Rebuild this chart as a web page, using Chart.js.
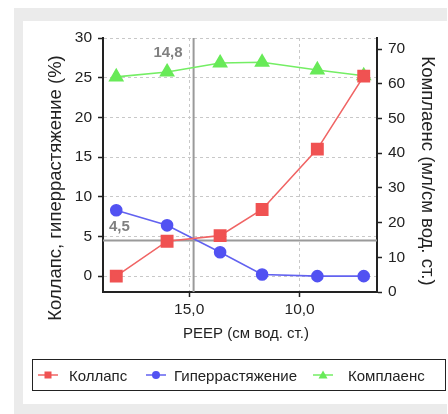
<!DOCTYPE html>
<html>
<head>
<meta charset="utf-8">
<script src="https://cdn.jsdelivr.net/npm/chart.js@4.4.1/dist/chart.umd.min.js"></script>
<style>
  body { margin: 0; background: #fff; width: 448px; height: 414px; overflow: hidden; position: relative; font-family: "Liberation Sans", Arial, sans-serif; }
  #frame { position: absolute; left: 14px; top: 8px; width: 433px; height: 406px; background: #ebebeb; }
  #panel { position: absolute; left: 23px; top: 21px; width: 424px; height: 383px; background: #fff; }
  #c { position: absolute; left: 0; top: 0; }
  #legend { position: absolute; left: 32px; top: 359px; width: 412px; height: 30px; border: 1.5px solid #222; }
  .item { position: absolute; top: 0; height: 30px; display: flex; align-items: center; font-size: 15px; color: #222; white-space: nowrap; }
</style>
</head>
<body>
<div id="frame"></div>
<div id="panel"></div>
<canvas id="c" width="448" height="414"></canvas>
<div id="legend"></div>
<script>
// данные
var peep = [18.3, 16.0, 13.6, 11.7, 9.2, 7.1];
var collapse = [0.0, 4.4, 5.1, 8.4, 16.0, 25.2];
var overdistension = [8.3, 6.4, 3.0, 0.2, 0.0, 0.0];
var compliance = [62.0, 63.4, 66.0, 66.2, 64.0, 62.3];
var xTicks = [15, 10];
var leftTicks = [0, 5, 10, 15, 20, 25, 30];
var rightTicks = [0, 10, 20, 30, 40, 50, 60, 70];
var bestPeep = 14.8;
var crossLevel = 4.5;

var names = ['Коллапс', 'Гиперрастяжение', 'Комплаенс'];
var colors = ['#f05252', '#5252f2', '#68ea58'];
var lineColors = ['#f06464', '#6262f0', '#74ee64'];

function pts(ys) {
  return peep.map(function (x, i) { return { x: x, y: ys[i] }; });
}

var tickFont = { family: '"Liberation Sans", Arial, sans-serif', size: 15.5 };

// линии 14,8 / 4,5 и подписи осей
var extras = {
  id: 'extras',
  beforeDatasetsDraw: function (chart) {
    var ctx = chart.ctx, a = chart.chartArea;
    var vx = chart.scales.x.getPixelForValue(bestPeep);
    var hy = chart.scales.y.getPixelForValue(crossLevel);
    ctx.save();
    ctx.strokeStyle = '#9a9a9a';
    ctx.lineWidth = 2;
    ctx.beginPath();
    ctx.moveTo(vx, a.top); ctx.lineTo(vx, a.bottom);
    ctx.moveTo(a.left, hy); ctx.lineTo(a.right, hy);
    ctx.stroke();
    ctx.restore();
  },
  afterDraw: function (chart) {
    var ctx = chart.ctx, a = chart.chartArea;
    var vx = chart.scales.x.getPixelForValue(bestPeep);
    var hy = chart.scales.y.getPixelForValue(crossLevel);
    ctx.save();
    ctx.fillStyle = '#808080';
    ctx.font = 'bold 15px "Liberation Sans", Arial, sans-serif';
    ctx.textBaseline = 'middle';
    ctx.textAlign = 'right';
    ctx.fillText(String(bestPeep).replace('.', ','), vx - 11, a.top + 15);
    ctx.textAlign = 'left';
    ctx.fillText(String(crossLevel).replace('.', ','), a.left + 6, hy - 14);

    ctx.fillStyle = '#222';
    ctx.textAlign = 'center';
    ctx.font = '15px "Liberation Sans", Arial, sans-serif';
    ctx.fillText('PEEP (см вод. ст.)', 246, 334);
    ctx.font = '18.5px "Liberation Sans", Arial, sans-serif';
    ctx.translate(56, 188);
    ctx.rotate(-Math.PI / 2);
    ctx.fillText('Коллапс, гиперрастяжение (%)', 0, 0);
    ctx.restore();
    ctx.save();
    ctx.fillStyle = '#222';
    ctx.textAlign = 'center';
    ctx.textBaseline = 'middle';
    ctx.font = '18.5px "Liberation Sans", Arial, sans-serif';
    ctx.translate(427, 171);
    ctx.rotate(Math.PI / 2);
    ctx.fillText('Комплаенс (мл/см вод. ст.)', 0, 0);
    ctx.restore();
  }
};

var chart = new Chart(document.getElementById('c'), {
  type: 'line',
  data: {
    datasets: [{
      label: names[0],
      data: pts(collapse),
      yAxisID: 'y',
      borderColor: lineColors[0],
      backgroundColor: colors[0],
      pointBackgroundColor: colors[0],
      pointBorderColor: colors[0],
      pointStyle: 'rect',
      pointRadius: 8,
      borderWidth: 1.6
    }, {
      label: names[1],
      data: pts(overdistension),
      yAxisID: 'y',
      borderColor: lineColors[1],
      backgroundColor: colors[1],
      pointBackgroundColor: colors[1],
      pointBorderColor: colors[1],
      pointStyle: 'circle',
      pointRadius: 5.5,
      borderWidth: 1.6
    }, {
      label: names[2],
      data: pts(compliance),
      yAxisID: 'y2',
      borderColor: lineColors[2],
      backgroundColor: colors[2],
      pointBackgroundColor: colors[2],
      pointBorderColor: colors[2],
      pointStyle: 'triangle',
      pointRadius: 7.5,
      borderWidth: 1.6
    }]
  },
  options: {
    responsive: false,
    animation: false,
    layout: { padding: { top: 38, left: 0, right: 0, bottom: 0 } },
    plugins: {
      legend: { display: false },
      tooltip: { enabled: false }
    },
    scales: {
      x: {
        type: 'linear',
        reverse: true,
        min: 6.5,
        max: 18.9,
        afterBuildTicks: function (s) { s.ticks = xTicks.map(function (v) { return { value: v }; }); },
        afterFit: function (s) { s.height = 122; },
        ticks: {
          font: tickFont, color: '#222', padding: 3,
          callback: function (v) { return v.toFixed(1).replace('.', ','); }
        },
        grid: { color: '#c8c8c8', tickColor: '#222', tickLength: 5, tickWidth: 1.5 },
        border: { color: '#222', width: 2, dash: [3, 3] }
      },
      y: {
        position: 'left',
        min: -2,
        max: 30,
        afterBuildTicks: function (s) { s.ticks = leftTicks.map(function (v) { return { value: v }; }); },
        afterFit: function (s) { s.width = 103; },
        ticks: { font: tickFont, color: '#222', padding: 6 },
        grid: { color: '#c8c8c8', tickColor: '#222', tickLength: 5, tickWidth: 1.5 },
        border: { color: '#222', width: 2, dash: [3, 3] }
      },
      y2: {
        position: 'right',
        min: 0,
        max: 73.2,
        afterBuildTicks: function (s) { s.ticks = rightTicks.map(function (v) { return { value: v }; }); },
        afterFit: function (s) { s.width = 71; },
        ticks: { font: tickFont, color: '#222', padding: 6 },
        grid: { drawOnChartArea: false, color: '#222', tickColor: '#222', tickLength: 5, tickWidth: 1.5 },
        border: { color: '#222', width: 2 }
      }
    }
  },
  plugins: [extras]
});

// легенда
var legendPos = [[5, 36], [113, 141], [280, 315]];
var markers = [
  '<rect x="6.5" y="5.5" width="7" height="7" fill="' + colors[0] + '"/>',
  '<circle cx="10" cy="9" r="4" fill="' + colors[1] + '"/>',
  '<polygon points="10,4.5 14.5,12.5 5.5,12.5" fill="' + colors[2] + '"/>'
];
var legend = document.getElementById('legend');
names.forEach(function (n, i) {
  var sw = document.createElement('div');
  sw.className = 'item';
  sw.style.left = legendPos[i][0] + 'px';
  sw.innerHTML = '<svg width="20" height="18"><line x1="0" y1="9" x2="20" y2="9" stroke="' + lineColors[i] + '" stroke-width="1.5"/>' + markers[i] + '</svg>';
  legend.appendChild(sw);
  var t = document.createElement('div');
  t.className = 'item';
  t.style.left = legendPos[i][1] + 'px';
  t.textContent = n;
  legend.appendChild(t);
});
</script>
</body>
</html>
